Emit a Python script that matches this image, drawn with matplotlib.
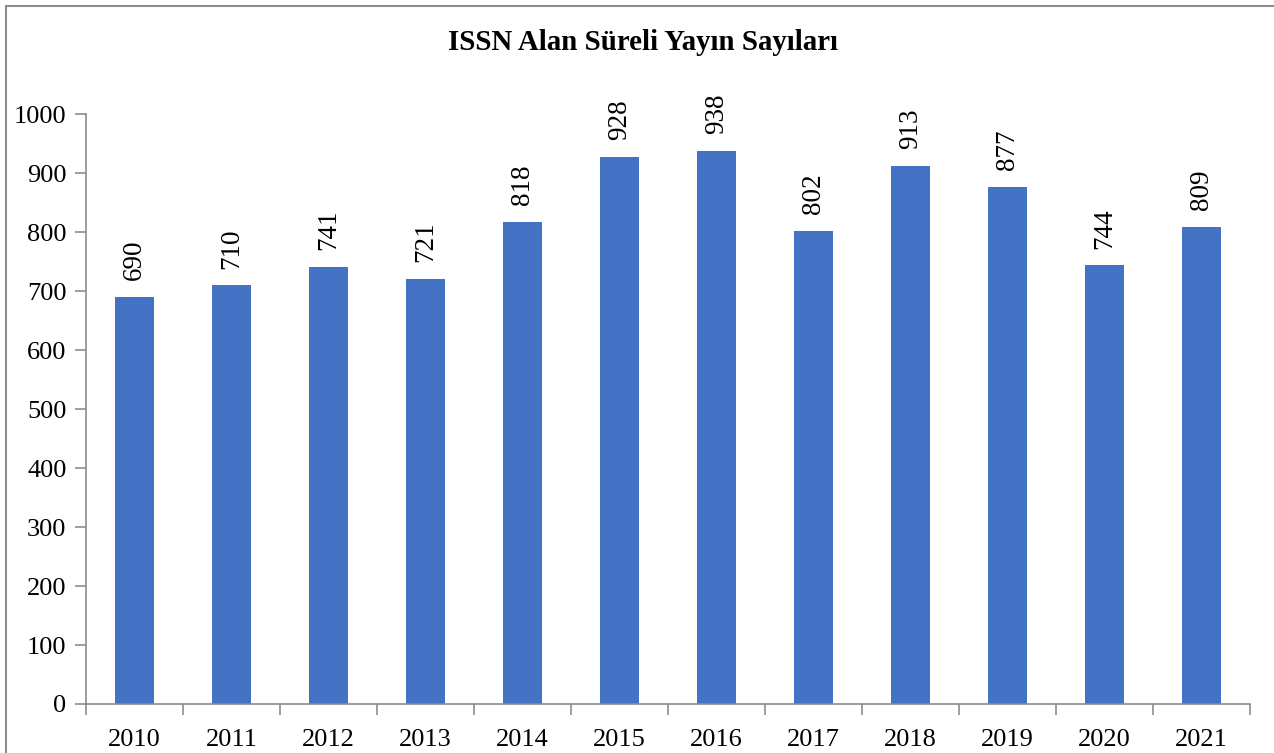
import numpy as np
import matplotlib.pyplot as plt
from matplotlib.patches import Rectangle

# Veriler
yillar = ['2010', '2011', '2012', '2013', '2014', '2015',
          '2016', '2017', '2018', '2019', '2020', '2021']
sayilar = [690, 710, 741, 721, 818, 928, 938, 802, 913, 877, 744, 809]
y_ticks = [0, 100, 200, 300, 400, 500, 600, 700, 800, 900, 1000]

plt.rcParams['font.family'] = ['Liberation Serif', 'DejaVu Serif']

fig = plt.figure(figsize=(12.74, 7.53), dpi=100)
ax = fig.add_axes([0.0675, 0.0651, 0.9137, 0.783])

x = np.arange(len(yillar))
bars = ax.bar(x, sayilar, width=0.4, color='#4472C4')

for xi, v in zip(x, sayilar):
    ax.annotate(str(v), (xi, v), xytext=(0, 12), textcoords='offset points',
                rotation=90, ha='center', va='bottom', fontsize=19.5)

ax.set_xlim(-0.5, len(yillar) - 0.5)
ax.set_ylim(0, 1000)
ax.set_yticks(y_ticks)
ax.set_yticklabels([str(t) for t in y_ticks], fontsize=19)
ax.set_xticks(x)
ax.set_xticklabels(yillar, fontsize=19)
ax.set_xticks(np.arange(-0.5, len(yillar)), minor=True)
ax.tick_params(axis='x', which='major', length=0, pad=18)
ax.tick_params(axis='x', which='minor', length=8, color='#8c8c8c', width=1.2)
ax.tick_params(axis='y', length=8, color='#8c8c8c', width=1.2, pad=6)

for s in ['top', 'right']:
    ax.spines[s].set_visible(False)
for s in ['left', 'bottom']:
    ax.spines[s].set_color('#8c8c8c')
    ax.spines[s].set_linewidth(1.2)

fig.text(0.505, 0.943, 'ISSN Alan Süreli Yayın Sayıları', ha='center', va='center',
         fontsize=20.8, fontweight='bold')

# Çerçeve
fig.patches.append(Rectangle((6 / 1274, -0.02), 1.1, 1 - 6 / 753 + 0.02,
                             transform=fig.transFigure, fill=False,
                             edgecolor='#8c8c8c', linewidth=1.5))

fig.savefig('out.png', dpi=100)
